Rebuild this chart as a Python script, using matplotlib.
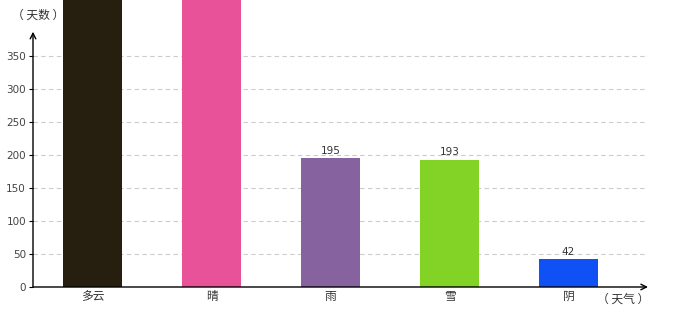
import matplotlib
matplotlib.use('Agg')
import matplotlib.pyplot as plt

plt.rcParams['font.family'] = ['Noto Sans CJK SC', 'DejaVu Sans']

# data
weather = ['多云', '晴', '雨', '雪', '阴']
days = [520, 480, 195, 193, 42]
colors = ['#261f0f', '#e85298', '#86629e', '#83d326', '#0f51f5']
yticks = [0, 50, 100, 150, 200, 250, 300, 350]

fig = plt.figure(figsize=(6.8, 3.2), dpi=100)
ax = fig.add_axes([33/680, 33/320, 615/680, 254/320])
ytop = 385

x = range(len(weather))
bars = ax.bar(x, days, width=0.5, color=colors, zorder=2, clip_on=False)
# labels of bars taller than the plot fall off the chart, so only the visible ones
for b, v in zip(bars, days):
    if v < ytop:
        ax.text(b.get_x() + b.get_width()/2, v + 4, str(v), ha='center', va='bottom',
                fontsize=7.5, color='#333333', family='DejaVu Sans')

ax.set_xlim(-0.5, 4.668)
ax.set_ylim(0, ytop)
ax.set_yticks(yticks)
ax.set_xticks(list(x))
ax.set_xticklabels(weather, fontsize=8.5, color='#333333')
ax.tick_params(axis='y', labelsize=7.5, labelcolor='#444444', length=3, pad=2)
ax.tick_params(axis='x', length=0, pad=2)
for t in ax.get_yticklabels():
    t.set_family('DejaVu Sans')
ax.yaxis.grid(True, linestyle=(0, (4, 3)), color='#cccccc', linewidth=0.8, zorder=0)

for s in ['top', 'right', 'left', 'bottom']:
    ax.spines[s].set_visible(False)

# axes with arrows
ax.annotate('', xy=(0, 1.005), xytext=(0, 0), xycoords='axes fraction',
            arrowprops=dict(arrowstyle='->', color='black', lw=1, shrinkA=0, shrinkB=0))
ax.annotate('', xy=(1.0, 0), xytext=(0, 0), xycoords='axes fraction',
            arrowprops=dict(arrowstyle='->', color='black', lw=1, shrinkA=0, shrinkB=0))

fig.text(38/680, 1 - 15/320, '（ 天数 ）', ha='center', va='center', fontsize=8.5, color='#333333')
fig.text(623/680, 1 - 299/320, '（ 天气 ）', ha='center', va='center', fontsize=8.5, color='#333333')

fig.savefig('out.png', dpi=100)
